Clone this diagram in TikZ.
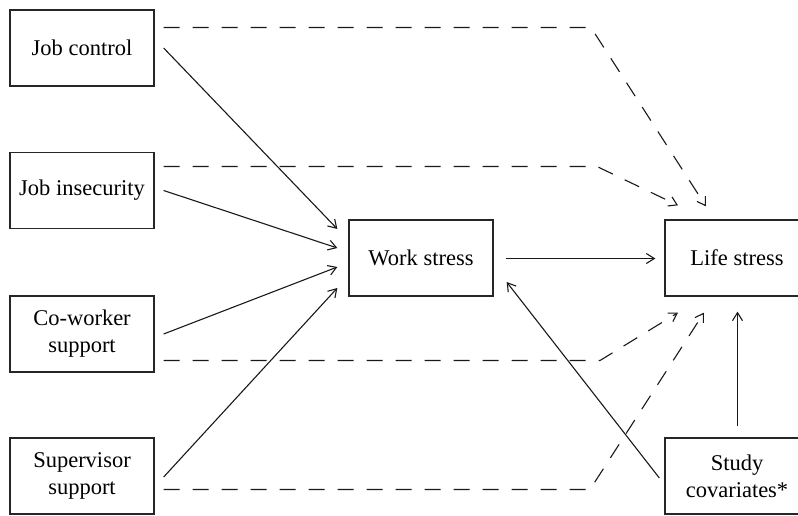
\documentclass[tikz,border=0pt]{standalone}
\usepackage{fontspec}
\setmainfont{Liberation Serif}
\usetikzlibrary{arrows.meta,calc}
\begin{document}
\begin{tikzpicture}[x=1pt,y=-1pt,
  box/.style={draw=black!85,line width=1.3pt,minimum width=144pt,minimum height=76pt,inner sep=0pt,align=center,font=\fontsize{22.5}{27}\selectfont},
  arr/.style={draw=black!90,line width=1.1pt,-{Straight Barb[length=8pt,width=10pt,line width=1.1pt]}},
  darr/.style={arr,dash pattern=on 16pt off 13pt}]
\useasboundingbox (0,0) rectangle (798,515);
\clip (0,0) rectangle (798,515);
\node[box] (jc) at (82,48) {Job control};
\node[box] (ji) at (82,190.5) {Job insecurity};
\node[box] (cw) at (82,334) {Co-worker\\support};
\node[box] (ss) at (82,476) {Supervisor\\support};
\node[box] (ws) at (421,258) {Work stress};
\node[box] (ls) at (737,258) {Life stress};
\node[box] (sc) at (737,476) {Study\\covariates*};
% solid arrows
\draw[arr] ($(jc.east)+(9,0)$) -- ($(ws.west)+(-11,-29)$);
\draw[arr] ($(ji.east)+(9,0)$) -- ($(ws.west)+(-11,-10)$);
\draw[arr] ($(cw.east)+(9,0)$) -- ($(ws.west)+(-11,9)$);
\draw[arr] ($(ss.east)+(9,1)$) -- ($(ws.west)+(-11,30)$);
\draw[arr] ($(ws.east)+(12,0.5)$) -- ($(ls.west)+(-9,0.5)$);
\draw[arr] ($(sc.west)+(-5,2)$) -- ($(ws.east)+(13,24)$);
\draw[arr] ($(sc.north)+(0.5,-11)$) -- ($(ls.south)+(0.5,15)$);
% dashed arrows
\coordinate (c1) at (591,27.5);
\coordinate (c2) at (597,166.5);
\coordinate (c3) at (600,360.5);
\coordinate (c4) at (590,489.5);
\draw[darr] ($(jc.east)+(9,-20.5)$) -- (c1) -- ($(ls.north)+(-31,-13)$);
\draw[darr] ($(ji.east)+(9,-24)$) -- (c2) -- ($(ls.north)+(-59,-14)$);
\draw[darr] ($(cw.east)+(9,26.5)$) -- (c3) -- ($(ls.south)+(-59,16)$);
\draw[darr] ($(ss.east)+(9,13.5)$) -- (c4) -- ($(ls.south)+(-33,16)$);
\end{tikzpicture}
\end{document}
